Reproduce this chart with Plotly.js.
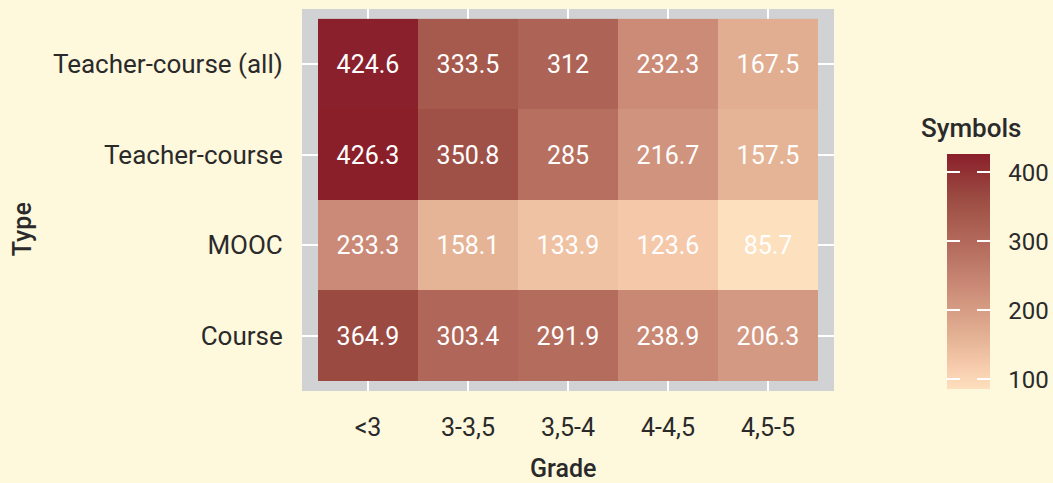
<!DOCTYPE html>
<html>
<head>
<meta charset="utf-8">
<script src="https://cdn.plot.ly/plotly-3.0.1.min.js"></script>
<style>
html,body{margin:0;padding:0;background:#fef8dc;overflow:hidden;width:1053px;height:483px;}
#wrap{width:1053px;height:483px;overflow:hidden;}
#chart{width:1093px;height:483px;}
</style>
</head>
<body>
<div id="wrap"><div id="chart"></div></div>
<script>
// Data (rows bottom-to-top)
const grades = ['<3', '3-3,5', '3,5-4', '4-4,5', '4,5-5'];
const types = ['Course', 'MOOC', 'Teacher-course', 'Teacher-course (all)'];
const course = [364.9, 303.4, 291.9, 238.9, 206.3];
const mooc = [233.3, 158.1, 133.9, 123.6, 85.7];
const teacherCourse = [426.3, 350.8, 285, 216.7, 157.5];
const teacherCourseAll = [424.6, 333.5, 312, 232.3, 167.5];
const colorTicks = [100, 200, 300, 400];

const z = [course, mooc, teacherCourse, teacherCourseAll];
const zmin = 85.7, zmax = 426.3;
const cscale = [
  [0, '#fde0bd'],
  [0.11, '#f5c8aa'],
  [0.21, '#e5b496'],
  [0.43, '#cb8b77'],
  [0.60, '#b56d5e'],
  [0.727, '#a65a4d'],
  [0.82, '#9b4a42'],
  [1, '#8a1f2a']
];
const fontFam = 'Roboto, "Noto Sans", sans-serif';
const txtCol = '#2a2a2a';

const cbCommon = {
  thickness: 43, thicknessmode: 'pixels',
  len: 235, lenmode: 'pixels',
  x: 1.2124, xanchor: 'left', xref: 'paper',
  y: 0.005, yanchor: 'bottom',
  outlinewidth: 0, xpad: 0, ypad: 0,
  tickvals: colorTicks,
  tickfont: {family: fontFam, size: 24, color: txtCol}
};

// base: labels only (transparent outside ticks for spacing)
const traceLabels = {
  type: 'heatmap', x: grades, y: types, z: z,
  zmin: zmin, zmax: zmax, colorscale: cscale, hoverinfo: 'skip',
  colorbar: Object.assign({}, cbCommon, {ticks: 'outside', ticklen: 14, tickcolor: 'rgba(0,0,0,0)'})
};
// right-side white dashes
const traceRight = {
  type: 'heatmap', x: grades, y: types, z: z,
  zmin: zmin, zmax: zmax, colorscale: cscale, hoverinfo: 'skip',
  colorbar: Object.assign({}, cbCommon, {ticks: 'inside', ticklen: 13, tickwidth: 2, tickcolor: '#ffffff', showticklabels: false})
};
// left-side white dashes + cell text
const traceMain = {
  type: 'heatmap', x: grades, y: types, z: z,
  zmin: zmin, zmax: zmax, colorscale: cscale,
  texttemplate: '%{z}',
  textfont: {family: fontFam, size: 25, color: '#ffffff'},
  hoverinfo: 'x+y+z',
  colorbar: Object.assign({}, cbCommon, {thickness: 13, ticks: 'inside', ticklen: 13, tickwidth: 2, tickcolor: '#ffffff', showticklabels: false})
};

const layout = {
  width: 1093, height: 483,
  paper_bgcolor: '#fef8dc',
  plot_bgcolor: '#d1d2d3',
  margin: {l: 302, r: 259, t: 9, b: 92, pad: 0},
  font: {family: fontFam, color: txtCol},
  xaxis: {
    type: 'category',
    range: [-0.66, 4.66],
    showgrid: true, gridcolor: '#ffffff', gridwidth: 2,
    zeroline: false, showline: false,
    ticks: 'outside', ticklen: 14, tickcolor: 'rgba(0,0,0,0)',
    tickfont: {family: fontFam, size: 25, color: txtCol},
    automargin: false, fixedrange: true
  },
  yaxis: {
    type: 'category',
    range: [-0.61, 3.61],
    showgrid: true, gridcolor: '#ffffff', gridwidth: 2,
    zeroline: false, showline: false,
    ticks: 'outside', ticklen: 13, tickcolor: 'rgba(0,0,0,0)',
    tickfont: {family: fontFam, size: 26, color: txtCol},
    automargin: false, fixedrange: true
  },
  annotations: [
    {
      text: 'Symbols', xref: 'paper', yref: 'paper',
      x: 1.16, y: 0.688, xanchor: 'left', yanchor: 'middle',
      showarrow: false,
      font: {family: fontFam, size: 26, color: txtCol, weight: 500}
    },
    {
      text: 'Grade', xref: 'paper', yref: 'paper',
      x: 0.4906, y: -0.2016, xanchor: 'center', yanchor: 'middle',
      showarrow: false,
      font: {family: fontFam, size: 25, color: txtCol, weight: 500}
    },
    {
      text: 'Type', xref: 'paper', yref: 'paper',
      x: -0.526, y: 0.424, xanchor: 'center', yanchor: 'middle',
      textangle: -90, showarrow: false,
      font: {family: fontFam, size: 25, color: txtCol, weight: 500}
    }
  ]
};

Plotly.newPlot('chart', [traceLabels, traceRight, traceMain], layout, {displayModeBar: false, staticPlot: true});
</script>
</body>
</html>
